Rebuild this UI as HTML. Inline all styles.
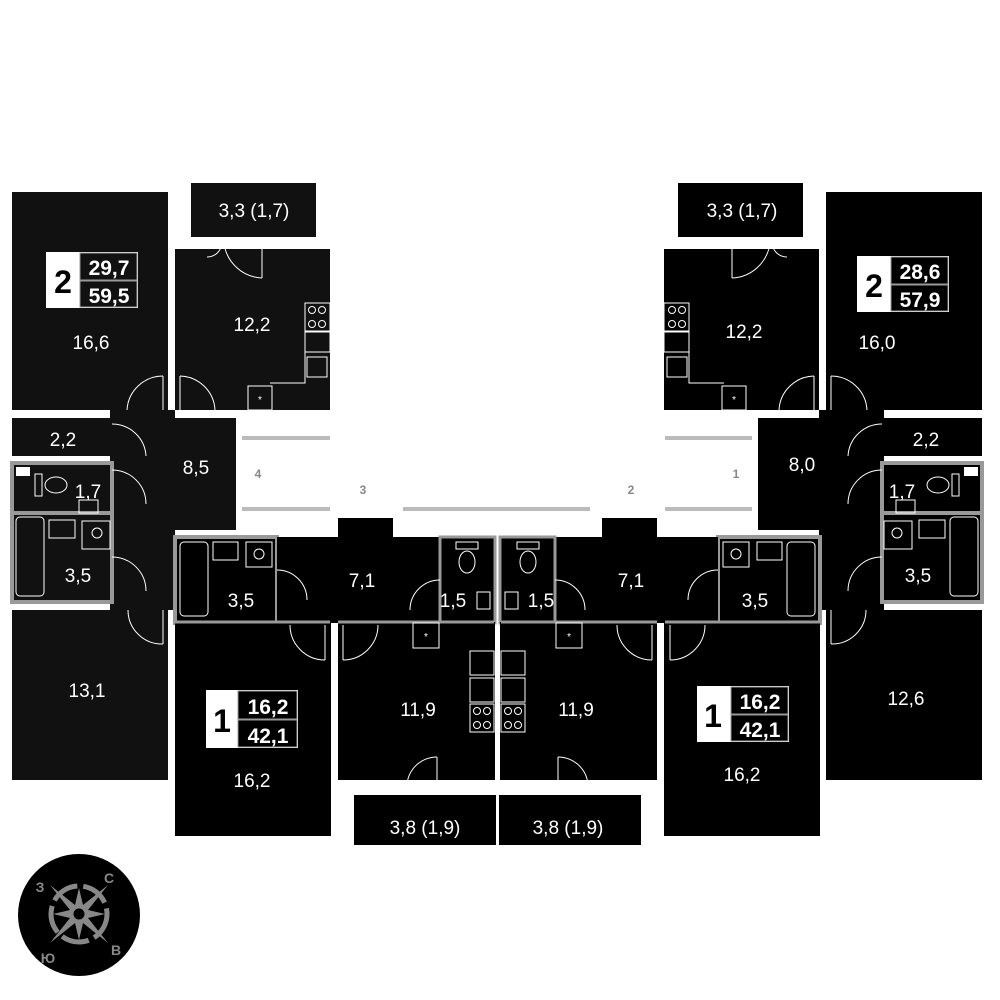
<!DOCTYPE html>
<html><head><meta charset="utf-8"><style>
html,body{margin:0;padding:0;background:#fff}
svg{display:block}
text{font-family:"Liberation Sans",sans-serif}
</style></head><body>
<svg width="1000" height="1000" viewBox="0 0 1000 1000" xmlns="http://www.w3.org/2000/svg">
<defs>
<g id="one">
  <rect x="175" y="537" width="102" height="86" fill="#000" stroke="#999" stroke-width="4"/>
  <rect x="175" y="622" width="156" height="214" fill="#000"/>
  <rect x="277" y="537" width="164" height="86" fill="#000"/>
  <rect x="338" y="518" width="55" height="22" fill="#000"/>
  <rect x="440" y="537" width="55" height="86" fill="#000" stroke="#999" stroke-width="3"/>
  <rect x="338" y="622" width="157" height="158" fill="#000"/>
  <rect x="354" y="795" width="142" height="50" fill="#000"/>
  <line x1="175" y1="622" x2="330" y2="622" stroke="#999" stroke-width="3"/>
  <line x1="338" y1="622" x2="494" y2="622" stroke="#999" stroke-width="3"/>
  <rect x="180" y="542" width="28" height="74" rx="4" fill="none" stroke="#fff" stroke-width="1"/>
  <rect x="213" y="542" width="25" height="18" fill="none" stroke="#fff" stroke-width="1"/>
  <rect x="246" y="542" width="26" height="25" fill="none" stroke="#fff" stroke-width="1"/>
  <circle cx="259" cy="554" r="5" fill="none" stroke="#fff" stroke-width="1"/>
  <ellipse cx="467" cy="562" rx="8" ry="11" fill="none" stroke="#fff" stroke-width="1"/>
  <rect x="456" y="542" width="22" height="7" fill="none" stroke="#fff" stroke-width="1"/>
  <rect x="477" y="592" width="13" height="17" fill="none" stroke="#fff" stroke-width="1"/>
  <rect x="413" y="623" width="26" height="25" fill="none" stroke="#fff" stroke-width="1"/>
  <text x="426" y="640" font-size="10" fill="#fff" text-anchor="middle">*</text>
  <rect x="470" y="651" width="24" height="24" fill="none" stroke="#fff" stroke-width="1"/>
  <rect x="470" y="678" width="24" height="24" fill="none" stroke="#fff" stroke-width="1"/>
  <rect x="470" y="704" width="24" height="28" fill="none" stroke="#fff" stroke-width="1"/>
  <circle cx="477" cy="711" r="3.5" fill="none" stroke="#fff" stroke-width="1"/><circle cx="487" cy="711" r="3.5" fill="none" stroke="#fff" stroke-width="1"/>
  <circle cx="477" cy="725" r="3.5" fill="none" stroke="#fff" stroke-width="1"/><circle cx="487" cy="725" r="3.5" fill="none" stroke="#fff" stroke-width="1"/>
  <path d="M277 570 A30 30 0 0 1 307 600" fill="none" stroke="#fff" stroke-width="1"/>
  <path d="M325 660 A35 35 0 0 1 290 625" fill="none" stroke="#fff" stroke-width="1"/>
  <line x1="325" y1="625" x2="325" y2="660" stroke="#fff" stroke-width="1"/>
  <path d="M343 660 A35 35 0 0 0 378 625" fill="none" stroke="#fff" stroke-width="1"/>
  <line x1="343" y1="625" x2="343" y2="660" stroke="#fff" stroke-width="1"/>
  <path d="M410 610 A30 30 0 0 1 440 580" fill="none" stroke="#fff" stroke-width="1"/>
  <path d="M407 790 A30 30 0 0 1 437 757" fill="none" stroke="#fff" stroke-width="1"/>
  <line x1="437" y1="757" x2="437" y2="790" stroke="#fff" stroke-width="1"/>
</g>
<g id="two">
  <rect x="191" y="183" width="125" height="54" fill="currentColor"/>
  <rect x="12" y="192" width="156" height="218" fill="currentColor"/>
  <rect x="175" y="249" width="155" height="161" fill="currentColor"/>
  <rect x="110" y="410" width="65" height="200" fill="currentColor"/>
  <rect x="170" y="418" width="66" height="112" fill="currentColor"/>
  <rect x="12" y="418" width="100" height="38" fill="currentColor"/>
  <rect x="12" y="463" width="100" height="50" fill="currentColor" stroke="#999" stroke-width="4"/>
  <rect x="12" y="513" width="100" height="89" fill="currentColor" stroke="#999" stroke-width="4"/>
  <rect x="12" y="610" width="156" height="170" fill="currentColor"/>
  <rect x="16" y="467" width="14" height="9" fill="#fff"/>
  <rect x="16" y="517" width="28" height="79" rx="4" fill="none" stroke="#fff" stroke-width="1"/>
  <rect x="49" y="520" width="26" height="18" fill="none" stroke="#fff" stroke-width="1"/>
  <rect x="82" y="521" width="28" height="28" fill="none" stroke="#fff" stroke-width="1"/>
  <circle cx="97" cy="533" r="5" fill="none" stroke="#fff" stroke-width="1"/>
  <ellipse cx="56" cy="485" rx="11" ry="8" fill="none" stroke="#fff" stroke-width="1"/>
  <rect x="35" y="474" width="7" height="22" fill="none" stroke="#fff" stroke-width="1"/>
  <rect x="79" y="500" width="19" height="13" fill="none" stroke="#fff" stroke-width="1"/>
  <rect x="248" y="386" width="24" height="24" fill="none" stroke="#fff" stroke-width="1"/>
  <text x="260" y="403" font-size="10" fill="#fff" text-anchor="middle">*</text>
  <rect x="305" y="303" width="25" height="28" fill="none" stroke="#fff" stroke-width="1"/>
  <circle cx="312" cy="310" r="3.5" fill="none" stroke="#fff" stroke-width="1"/><circle cx="322" cy="310" r="3.5" fill="none" stroke="#fff" stroke-width="1"/>
  <circle cx="312" cy="324" r="3.5" fill="none" stroke="#fff" stroke-width="1"/><circle cx="322" cy="324" r="3.5" fill="none" stroke="#fff" stroke-width="1"/>
  <rect x="305" y="332" width="25" height="20" fill="none" stroke="#fff" stroke-width="1"/>
  <rect x="307" y="357" width="20" height="20" fill="none" stroke="#fff" stroke-width="1"/>
  <path d="M305 352 V383 H270" fill="none" stroke="#fff" stroke-width="1"/>
  <path d="M207 257 A15 15 0 0 0 222 243 M262 278 A40 40 0 0 1 224 243" fill="none" stroke="#fff" stroke-width="1"/>
  <line x1="262" y1="243" x2="262" y2="278" stroke="#fff" stroke-width="1"/>
  <path d="M127 410 A36 36 0 0 1 163 376" fill="none" stroke="#fff" stroke-width="1"/>
  <line x1="163" y1="376" x2="163" y2="410" stroke="#fff" stroke-width="1"/>
  <path d="M215 410 A36 36 0 0 0 180 376" fill="none" stroke="#fff" stroke-width="1"/>
  <line x1="180" y1="376" x2="180" y2="410" stroke="#fff" stroke-width="1"/>
  <path d="M112 424 A34 34 0 0 1 146 456" fill="none" stroke="#fff" stroke-width="1"/>
  <path d="M112 470 A34 34 0 0 1 146 504" fill="none" stroke="#fff" stroke-width="1"/>
  <path d="M112 557 A34 34 0 0 1 146 591" fill="none" stroke="#fff" stroke-width="1"/>
  <path d="M128 610 A34 34 0 0 0 163 644" fill="none" stroke="#fff" stroke-width="1"/>
  <line x1="163" y1="610" x2="163" y2="644" stroke="#fff" stroke-width="1"/>
</g>
</defs>

<g style="color:#111"><use href="#two"/></g>
<g style="color:#000" transform="translate(994,0) scale(-1,1)"><use href="#two"/></g>
<use href="#one"/>
<g transform="translate(995,0) scale(-1,1)"><use href="#one"/></g>

<g stroke="#bbb" stroke-width="4">
<line x1="242" y1="438" x2="330" y2="438"/><line x1="242" y1="509" x2="330" y2="509"/>
<line x1="665" y1="438" x2="752" y2="438"/><line x1="665" y1="509" x2="752" y2="509"/>
<line x1="403" y1="509" x2="590" y2="509"/>
</g>
<g fill="#888" font-size="12" font-weight="bold" text-anchor="middle">
<text x="258" y="478">4</text><text x="363" y="494">3</text><text x="631" y="494">2</text><text x="736" y="478">1</text>
</g>

<g fill="#fff" font-size="19" text-anchor="middle">
<text x="254" y="217">3,3 (1,7)</text><text x="742" y="217">3,3 (1,7)</text>
<text x="91" y="349">16,6</text><text x="252" y="331">12,2</text>
<text x="744" y="338">12,2</text><text x="877" y="349">16,0</text>
<text x="63" y="446">2,2</text><text x="88" y="498">1,7</text><text x="78" y="582">3,5</text>
<text x="196" y="474">8,5</text><text x="87" y="697">13,1</text>
<text x="926" y="446">2,2</text><text x="902" y="498">1,7</text><text x="918" y="582">3,5</text>
<text x="802" y="471">8,0</text><text x="906" y="705">12,6</text>
<text x="241" y="607">3,5</text><text x="362" y="587">7,1</text><text x="453" y="607">1,5</text>
<text x="418" y="716">11,9</text><text x="252" y="787">16,2</text><text x="425" y="834">3,8 (1,9)</text>
<text x="541" y="607">1,5</text><text x="631" y="587">7,1</text><text x="755" y="607">3,5</text>
<text x="576" y="716">11,9</text><text x="742" y="781">16,2</text><text x="568" y="834">3,8 (1,9)</text>
</g>

<g font-weight="bold" text-anchor="middle">
<rect x="46" y="252" width="92" height="56" fill="#fff"/>
<rect x="80" y="253" width="57" height="27" fill="#111" stroke="#999"/><rect x="80" y="281" width="57" height="26" fill="#111" stroke="#999"/>
<text x="63" y="293" font-size="32">2</text>
<text x="109" y="275" font-size="21" fill="#fff">29,7</text><text x="109" y="303" font-size="21" fill="#fff">59,5</text>

<rect x="857" y="256" width="92" height="56" fill="#fff"/>
<rect x="891" y="257" width="57" height="27" fill="#000" stroke="#999"/><rect x="891" y="285" width="57" height="26" fill="#000" stroke="#999"/>
<text x="874" y="297" font-size="32">2</text>
<text x="920" y="279" font-size="21" fill="#fff">28,6</text><text x="920" y="307" font-size="21" fill="#fff">57,9</text>

<rect x="206" y="690" width="92" height="58" fill="#fff"/>
<rect x="238" y="691" width="59" height="28" fill="#000" stroke="#999"/><rect x="238" y="720" width="59" height="27" fill="#000" stroke="#999"/>
<text x="222" y="732" font-size="32">1</text>
<text x="268" y="714" font-size="21" fill="#fff">16,2</text><text x="268" y="743" font-size="21" fill="#fff">42,1</text>

<rect x="697" y="686" width="92" height="56" fill="#fff"/>
<rect x="731" y="687" width="57" height="27" fill="#000" stroke="#999"/><rect x="731" y="715" width="57" height="26" fill="#000" stroke="#999"/>
<text x="713" y="727" font-size="32">1</text>
<text x="760" y="709" font-size="21" fill="#fff">16,2</text><text x="760" y="737" font-size="21" fill="#fff">42,1</text>
</g>

<circle cx="79" cy="915" r="61" fill="#000"/>
<circle cx="79" cy="914" r="28" fill="none" stroke="#888" stroke-width="5" stroke-dasharray="28 6"/>
<polygon fill="#888" points="79,888 83,905 108,885 88,910 105,914 88,918 108,943 83,923 79,940 75,923 50,943 70,918 53,914 70,910 50,885 75,905"/>
<circle cx="79" cy="914" r="7" fill="#000" stroke="#888" stroke-width="3"/>
<g fill="#888" font-size="14" font-weight="bold" text-anchor="middle">
<text x="40" y="892">З</text><text x="109" y="883">С</text><text x="116" y="955">В</text><text x="48" y="963">Ю</text>
</g>
</svg>
</body></html>
